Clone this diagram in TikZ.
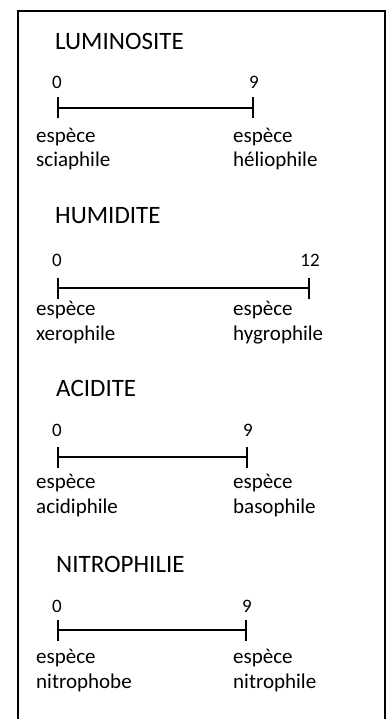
\documentclass[tikz,border=0pt]{standalone}
\usepackage{fontspec}
\setmainfont{Carlito}
\usetikzlibrary{arrows.meta}

\tikzset{
  titre/.style={anchor=base west, inner sep=0pt, font=\fontsize{25}{30}\selectfont},
  nombre/.style={anchor=base, inner sep=0pt, font=\fontsize{19}{23}\selectfont},
  espece/.style={anchor=base west, inner sep=0pt, font=\fontsize{21}{25}\selectfont},
  echelle/.style={line width=2pt, {Bar[width=21pt,line width=2pt]}-{Bar[width=21pt,line width=2pt]}},
}

\begin{document}
\begin{tikzpicture}[x=1pt,y=-1pt]
    \useasboundingbox (0,0) rectangle (387,719);
    % cadre ouvert en bas
    \draw[line width=2pt] (18,719) |- (385,11) -- (385,719);

    % luminosite
    \node[titre] (lum) at (55,50) {LUMINOSITE};
    \coordinate (lum0) at (57,108);
    \coordinate (lum9) at (254,108);
    \draw[echelle] (lum0) -- (lum9);
    \node[nombre] (lumn0) at (57,89) {0};
    \node[nombre] (lumn9) at (254,89) {9};
    \node[espece] (lumg1) at (36,143) {espèce};
    \node[espece] (lumg2) at (36,167) {sciaphile};
    \node[espece] (lumd1) at (233,143) {espèce};
    \node[espece] (lumd2) at (233,167) {héliophile};

    % humidite
    \node[titre] (hum) at (55,223) {HUMIDITE};
    \coordinate (hum0) at (57,288);
    \coordinate (hum12) at (310,288);
    \draw[echelle] (hum0) -- (hum12);
    \node[nombre] (humn0) at (57,266) {0};
    \node[nombre] (humn12) at (310,266) {12};
    \node[espece] (humg1) at (36,315) {espèce};
    \node[espece] (humg2) at (36,340) {xerophile};
    \node[espece] (humd1) at (233,315) {espèce};
    \node[espece] (humd2) at (233,340) {hygrophile};

    % acidite
    \node[titre] (aci) at (56,396) {ACIDITE};
    \coordinate (aci0) at (57,457);
    \coordinate (aci9) at (248,457);
    \draw[echelle] (aci0) -- (aci9);
    \node[nombre] (acin0) at (57,436) {0};
    \node[nombre] (acin9) at (248,436) {9};
    \node[espece] (acig1) at (36,488) {espèce};
    \node[espece] (acig2) at (36,513) {acidiphile};
    \node[espece] (acid1) at (233,488) {espèce};
    \node[espece] (acid2) at (233,513) {basophile};

    % nitrophilie
    \node[titre] (nit) at (56,572) {NITROPHILIE};
    \coordinate (nit0) at (57,630);
    \coordinate (nit9) at (247,630);
    \draw[echelle] (nit0) -- (nit9);
    \node[nombre] (nitn0) at (57,612) {0};
    \node[nombre] (nitn9) at (247,612) {9};
    \node[espece] (nitg1) at (36,663) {espèce};
    \node[espece] (nitg2) at (36,688) {nitrophobe};
    \node[espece] (nitd1) at (233,663) {espèce};
    \node[espece] (nitd2) at (233,688) {nitrophile};
\end{tikzpicture}
\end{document}
